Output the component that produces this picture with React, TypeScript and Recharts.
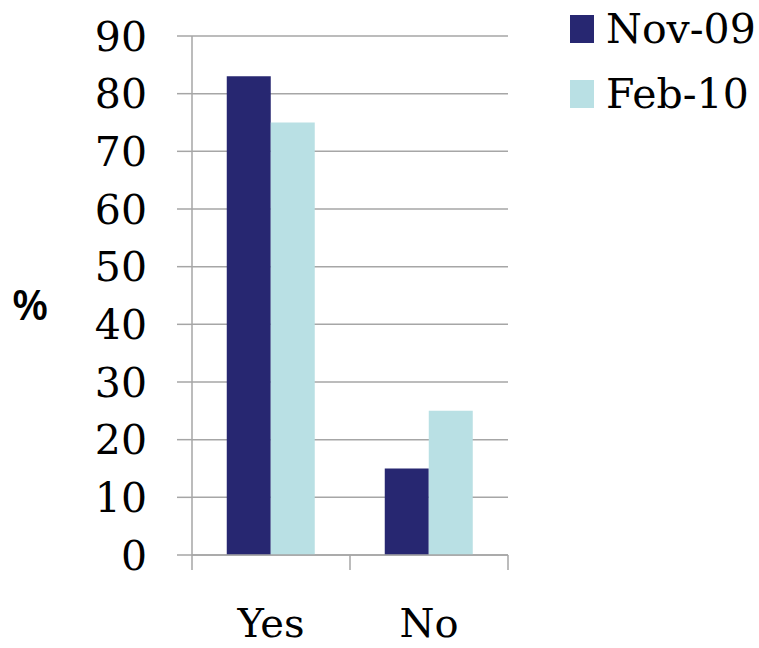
import { BarChart, Bar, XAxis, YAxis, CartesianGrid } from "recharts";

const categories = ["Yes", "No"];
const nov09 = [83, 15];
const feb10 = [75, 25];
const yTicks = [0, 10, 20, 30, 40, 50, 60, 70, 80, 90];
const seriesNames = ["Nov-09", "Feb-10"];
const seriesColors = ["#272771", "#b9e0e4"];

const data = categories.map((c, i) => ({ answer: c, nov: nov09[i], feb: feb10[i] }));

const SERIF = "'DejaVu Serif', 'Liberation Serif', serif";
const GRID = "#a6a6a6";

const XTick = (props: any) => {
    const { x, y, payload, index } = props;
    const half = payload.offset ?? 79;
    const isLast = index === categories.length - 1;
    return (
        <g>
            <line x1={x - half} y1={y} x2={x - half} y2={y + 15} stroke={GRID} strokeWidth={1.5} />
            {isLast && (
                <line x1={x + half} y1={y} x2={x + half} y2={y + 15} stroke={GRID} strokeWidth={1.5} />
            )}
            <text x={x} y={y + 82} textAnchor="middle" fontFamily={SERIF} fontSize={40} fill="#000">
                {payload.value}
            </text>
        </g>
    );
};

function ChartLegend() {
    return (
        <div style={{ position: "absolute", left: 570, top: -4 }}>
            {seriesNames.map((name, i) => (
                <div key={name} style={{ display: "flex", alignItems: "center", height: 65 }}>
                    <div style={{ width: 24, height: 28, background: seriesColors[i], marginRight: 12 }} />
                    <span style={{ fontFamily: SERIF, fontSize: 41, color: "#000" }}>{name}</span>
                </div>
            ))}
        </div>
    );
}

export default function App() {
    return (
        <div style={{ position: "absolute", left: 0, top: 0, width: 759, height: 648, background: "#fff" }}>
            <BarChart
                width={759}
                height={648}
                data={data}
                margin={{ top: 36, right: 251, left: 0, bottom: 63 }}
                barCategoryGap="22%"
                barGap={0}
            >
                <CartesianGrid vertical={false} stroke={GRID} strokeWidth={1.5} />
                <XAxis
                    dataKey="answer"
                    height={30}
                    axisLine={{ stroke: GRID, strokeWidth: 1.5 }}
                    tickLine={false}
                    tickSize={0}
                    tickMargin={0}
                    tick={<XTick />}
                    interval={0}
                />
                <YAxis
                    width={192}
                    domain={[0, 90]}
                    ticks={yTicks}
                    interval={0}
                    axisLine={{ stroke: GRID, strokeWidth: 1.5 }}
                    tickLine={{ stroke: GRID, strokeWidth: 1.5 }}
                    tickSize={15}
                    tickMargin={30}
                    tick={{ fill: "#000", fontSize: 41, fontFamily: SERIF }}
                    label={{
                        value: "%",
                        position: "insideLeft",
                        offset: 12,
                        dy: 10,
                        style: { fontSize: 42, fontFamily: "'Open Sans', sans-serif", fontWeight: 600, fill: "#000" },
                    }}
                />
                <Bar dataKey="nov" name={seriesNames[0]} fill={seriesColors[0]} isAnimationActive={false} />
                <Bar dataKey="feb" name={seriesNames[1]} fill={seriesColors[1]} isAnimationActive={false} />
            </BarChart>
            <ChartLegend />
        </div>
    );
}
